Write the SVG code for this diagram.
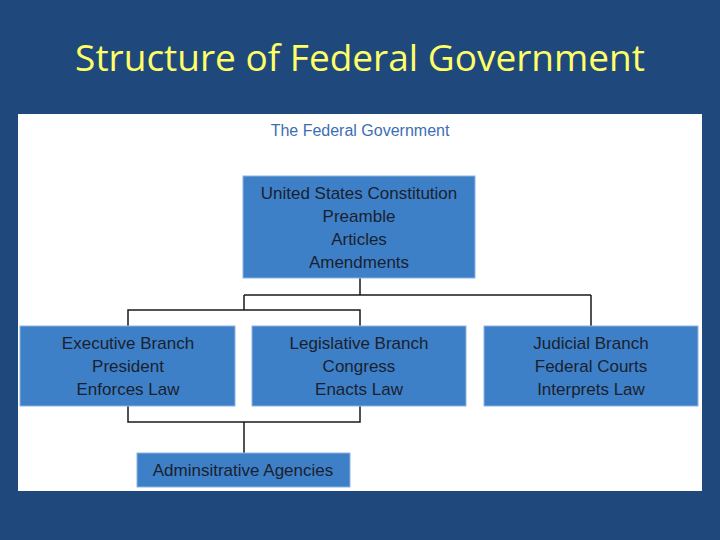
<svg xmlns="http://www.w3.org/2000/svg" width="720" height="540" viewBox="0 0 720 540">
<style>
.box{fill:#3D80C8;stroke:#8FB3DE;stroke-width:1}
.t{font-family:"Liberation Sans",Arial,sans-serif;font-size:17px;fill:#1B1F2E;text-anchor:middle}
.c{fill:none;stroke:#1a1a1a;stroke-width:1.5}
</style>
<rect width="720" height="540" fill="#1F497D"/>
<text x="360" y="71" font-family="'Open Sans','Liberation Sans',sans-serif" font-size="37" fill="#FFFF66" text-anchor="middle">Structure of Federal Government</text>
<rect x="18" y="114" width="684" height="377" fill="#FFFFFF"/>
<text x="360" y="136" font-family="'Liberation Sans',Arial,sans-serif" font-size="16" fill="#3C6EB4" text-anchor="middle">The Federal Government</text>
<g id="connectors" class="c">
<path d="M360 278V295M244 295H591M244 295V310M128 326V310H360V326M591 295V326"/>
<path d="M128 406V422H360V406M244 422V453"/>
</g>
<g id="constitution"><rect class="box" x="243" y="176" width="232" height="102"/>
<text class="t" x="359" y="199">United States Constitution</text><text class="t" x="359" y="222">Preamble</text><text class="t" x="359" y="245">Articles</text><text class="t" x="359" y="268">Amendments</text></g>
<g id="executive"><rect class="box" x="20" y="326" width="215" height="80"/>
<text class="t" x="128" y="349">Executive Branch</text><text class="t" x="128" y="372">President</text><text class="t" x="128" y="395">Enforces Law</text></g>
<g id="legislative"><rect class="box" x="252" y="326" width="214" height="80"/>
<text class="t" x="359" y="349">Legislative Branch</text><text class="t" x="359" y="372">Congress</text><text class="t" x="359" y="395">Enacts Law</text></g>
<g id="judicial"><rect class="box" x="484" y="326" width="214" height="80"/>
<text class="t" x="591" y="349">Judicial Branch</text><text class="t" x="591" y="372">Federal Courts</text><text class="t" x="591" y="395">Interprets Law</text></g>
<g id="agencies"><rect class="box" x="137" y="453" width="213" height="34"/>
<text class="t" x="243" y="476">Adminsitrative Agencies</text></g>
</svg>
